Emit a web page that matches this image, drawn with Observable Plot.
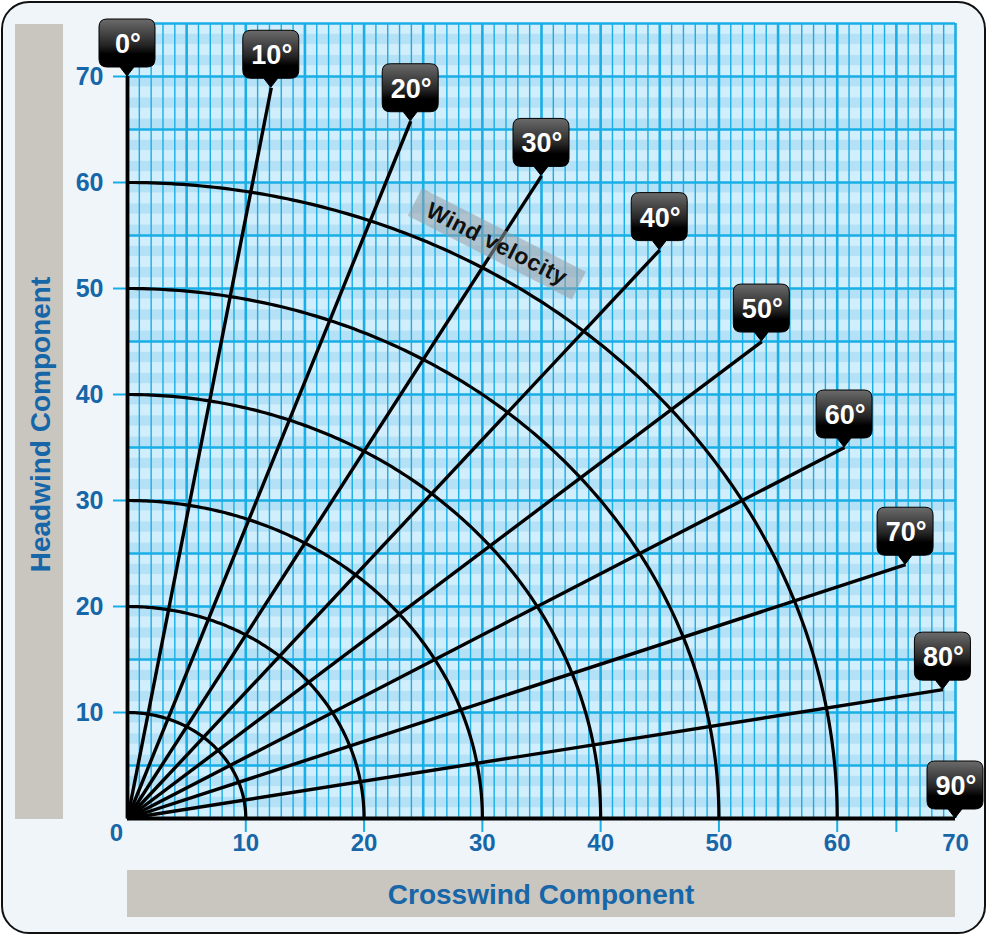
<!DOCTYPE html>
<html>
<head>
<meta charset="utf-8">
<script src="https://cdn.jsdelivr.net/npm/d3@7"></script>
<script src="https://cdn.jsdelivr.net/npm/@observablehq/plot@0.6"></script>
<style>
  html, body { margin: 0; padding: 0; background: #ffffff; }
  #wrap { position: relative; width: 987px; height: 935px; overflow: hidden; }
  #panel { position: absolute; left: 1px; top: 1px; width: 981px; height: 929px;
           border: 2px solid #111; border-radius: 28px; background: #eff5f9; }
  #chart { position: absolute; left: 0; top: 0; }
  #chart svg { overflow: visible; }
</style>
</head>
<body>
<div id="wrap"><div id="panel"></div><div id="chart"></div></div>
<script>
// ---- data ----
const radii = [10, 20, 30, 40, 50, 60];                    // wind velocity arcs
const spokeAngles = [0, 10, 20, 30, 40, 50, 60, 70, 80];   // wind angle lines (deg)
const labelAngles = [0, 10, 20, 30, 40, 50, 60, 70, 80, 90];
const spokeLength = 70;
const xTickMarks = [10, 20, 30, 40, 50, 60, 65];
const xTickLabels = [10, 20, 30, 40, 50, 60, 70];
const yTickValues = [10, 20, 30, 40, 50, 60, 70];
const xTitle = "Crosswind Component";
const yTitle = "Headwind Component";
const windLabel = "Wind velocity";
const windLabelRadius = 62.5;
const windLabelAngle = 30;

// ---- styles ----
const BLUE = "#1666a8";
const CYAN = "#19aee6";
const BAND1 = "#d0eefc";
const BAND2 = "#b5e1f7";
const GREY = "#c9c5bf";
const FONT = "Liberation Sans, Arial, Helvetica, sans-serif";
const rad = d => d * Math.PI / 180;

const bands = d3.range(0, 75);
const arcPts = radii.flatMap(r => d3.range(0, 90.001, 0.5).map(a => ({r, x: r * Math.sin(rad(a)), y: r * Math.cos(rad(a))})));
const spokes = spokeAngles.map(a => ({a, x2: spokeLength * Math.sin(rad(a)), y2: spokeLength * Math.cos(rad(a))}));

function decor(index, scales, values, dimensions) {
  const {x, y} = scales;
  const g = d3.create("svg:g");
  const x0 = x(0), x70 = x(70), yTop = y(75), yBot = y(0);
  g.append("rect").attr("x", 15).attr("y", yTop + 1).attr("width", 48).attr("height", yBot - yTop)
    .attr("fill", GREY);
  g.append("rect").attr("x", x0).attr("y", yBot + 52).attr("width", x70 - x0).attr("height", 47)
    .attr("fill", GREY);
  g.append("text").attr("transform", `translate(40,${(yTop + yBot) / 2 + 4}) rotate(-90)`)
    .attr("text-anchor", "middle").attr("dominant-baseline", "central")
    .attr("font-family", FONT).attr("font-weight", "bold").attr("font-size", 28)
    .attr("fill", BLUE).text(yTitle);
  g.append("text").attr("x", (x0 + x70) / 2).attr("y", yBot + 76)
    .attr("text-anchor", "middle").attr("dominant-baseline", "central")
    .attr("font-family", FONT).attr("font-weight", "bold").attr("font-size", 28)
    .attr("fill", BLUE).text(xTitle);
  return g.node();
}

function windMark(index, scales) {
  const {x, y} = scales;
  const cx = x(windLabelRadius * Math.sin(rad(windLabelAngle)));
  const cy = y(windLabelRadius * Math.cos(rad(windLabelAngle)));
  const g = d3.create("svg:g").attr("transform", `translate(${cx},${cy}) rotate(27)`);
  g.append("rect").attr("x", -92).attr("y", -16).attr("width", 184).attr("height", 31)
    .attr("fill", "#969fa5").attr("fill-opacity", 0.55);
  g.append("text").attr("text-anchor", "middle").attr("dominant-baseline", "central").attr("y", -1)
    .attr("font-family", FONT).attr("font-weight", "bold").attr("font-size", 23).attr("letter-spacing", 0.5)
    .attr("fill", "#111").text(windLabel);
  return g.node();
}

function callouts(index, scales) {
  const {x, y} = scales;
  const g = d3.create("svg:g");
  const defs = g.append("defs");
  const grad = defs.append("linearGradient").attr("id", "gloss").attr("x1", 0).attr("y1", 0).attr("x2", 0).attr("y2", 1);
  grad.append("stop").attr("offset", "0%").attr("stop-color", "#6b6b6b");
  grad.append("stop").attr("offset", "45%").attr("stop-color", "#262626");
  grad.append("stop").attr("offset", "62%").attr("stop-color", "#000");
  grad.append("stop").attr("offset", "100%").attr("stop-color", "#000");
  const w = 28, top = -57, bot = -9, r = 8, pw = 7;
  const path = `M${-w + r},${top} H${w - r} Q${w},${top} ${w},${top + r} V${bot - r} Q${w},${bot} ${w - r},${bot}
    H${pw} L0,0 L${-pw},${bot} H${-w + r} Q${-w},${bot} ${-w},${bot - r} V${top + r} Q${-w},${top} ${-w + r},${top} Z`;
  for (const a of labelAngles) {
    const tx = x(spokeLength * Math.sin(rad(a)));
    const ty = y(spokeLength * Math.cos(rad(a)));
    const c = g.append("g").attr("transform", `translate(${tx},${ty})`);
    c.append("path").attr("d", path).attr("fill", "url(#gloss)").attr("stroke", "#000").attr("stroke-width", 1);
    c.append("text").attr("x", 1).attr("y", (top + bot) / 2 + 1).attr("text-anchor", "middle").attr("dominant-baseline", "central")
      .attr("font-family", FONT).attr("font-weight", "bold").attr("font-size", 27).attr("fill", "#fff")
      .text(`${a}°`);
  }
  return g.node();
}

const chart = Plot.plot({
  width: 987,
  height: 935,
  marginLeft: 127,
  marginRight: 32,
  marginTop: 23,
  marginBottom: 117,
  x: {domain: [0, 70]},
  y: {domain: [0, 75]},
  style: {background: "transparent", fontFamily: FONT, overflow: "visible"},
  marks: [
    decor,
    Plot.rect(bands.filter(d => d % 2 === 0), {x1: 0, x2: 70, y1: d => d, y2: d => d + 1, fill: BAND1}),
    Plot.rect(bands.filter(d => d % 2 === 1), {x1: 0, x2: 70, y1: d => d, y2: d => d + 1, fill: BAND2}),
    Plot.ruleX(d3.range(0, 71).filter(d => d % 5 !== 0), {y1: 0, y2: 75, stroke: CYAN, strokeWidth: 1.4}),
    Plot.ruleX(d3.range(0, 71, 5), {y1: 0, y2: 75, stroke: CYAN, strokeWidth: 2.6}),
    Plot.ruleY(d3.range(5, 76, 5), {x1: 0, x2: 70, stroke: CYAN, strokeWidth: 2.4}),
    Plot.axisX(xTickMarks, {tickSize: 14, stroke: CYAN, strokeWidth: 2, tickFormat: () => "", label: null}),
    Plot.axisY(yTickValues, {tickSize: 14, stroke: CYAN, strokeWidth: 2, tickFormat: () => "", label: null}),
    Plot.text(xTickLabels, {x: d => d, frameAnchor: "bottom", dy: 32, text: d => `${d}`, fontSize: 24, fontWeight: "bold", fill: BLUE}),
    Plot.text(yTickValues, {y: d => d, frameAnchor: "left", dx: -24, textAnchor: "end", text: d => `${d}`, fontSize: 25, fontWeight: "bold", fill: BLUE}),
    Plot.text([0], {x: 0, y: 0, text: d => `${d}`, dx: -11, dy: 15, fontSize: 24, fontWeight: "bold", fill: BLUE}),
    Plot.line(arcPts, {x: "x", y: "y", z: "r", stroke: "#000", strokeWidth: 3.2}),
    Plot.link(spokes, {x1: 0, y1: 0, x2: "x2", y2: "y2", stroke: "#000", strokeWidth: 3.4}),
    Plot.ruleX([0], {y1: 0, y2: 70, stroke: "#000", strokeWidth: 3.5}),
    Plot.ruleY([0], {x1: 0, x2: 70, stroke: "#000", strokeWidth: 4}),
    windMark,
    callouts
  ]
});
document.getElementById("chart").appendChild(chart);
</script>
</body>
</html>
